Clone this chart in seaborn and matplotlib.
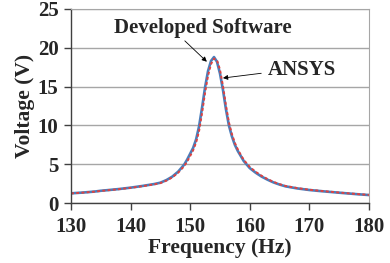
import numpy as np
import pandas as pd
import matplotlib
matplotlib.use("Agg")
import matplotlib.pyplot as plt
import seaborn as sns

# frequency (Hz) sample points
freq = [130, 132, 134, 135, 136, 138, 140, 142, 144, 145, 146, 147, 148, 149,
        149.5, 150, 150.5, 151, 151.5, 152, 152.5, 153, 153.5, 154, 154.5,
        155, 155.5, 156, 156.5, 157, 157.5, 158, 158.5, 159, 160, 161, 162,
        163, 164, 165, 166, 168, 170, 172, 175, 178, 180]

# voltage (V), developed software
v_dev = [1.25, 1.35, 1.48, 1.58, 1.65, 1.80, 1.98, 2.20, 2.45, 2.62, 2.95,
         3.40, 4.05, 4.95, 5.60, 6.35, 7.10, 8.20, 9.90, 12.3, 14.9, 17.0,
         18.3, 18.8, 18.2, 16.7, 14.6, 12.1, 10.0, 8.60, 7.50, 6.70, 6.05,
         5.40, 4.50, 3.90, 3.40, 3.00, 2.65, 2.38, 2.15, 1.88, 1.68, 1.53,
         1.33, 1.14, 1.03]

# voltage (V), ANSYS
v_ansys = [1.24, 1.34, 1.47, 1.56, 1.63, 1.78, 1.96, 2.17, 2.41, 2.57, 2.88,
           3.30, 3.92, 4.75, 5.35, 6.05, 6.80, 7.80, 9.30, 11.6, 14.2, 16.4,
           17.9, 18.6, 18.4, 17.2, 15.1, 12.6, 10.4, 8.90, 7.75, 6.90, 6.20,
           5.55, 4.65, 4.02, 3.50, 3.08, 2.72, 2.43, 2.20, 1.92, 1.71, 1.56,
           1.35, 1.16, 1.05]

x_ticks = [130, 140, 150, 160, 170, 180]
y_ticks = [0, 5, 10, 15, 20, 25]

df = pd.DataFrame({"freq": freq, "dev": v_dev, "ansys": v_ansys})

sns.set_style("ticks")
plt.rcParams["font.family"] = ["Liberation Serif", "DejaVu Serif"]
plt.rcParams["font.weight"] = "bold"

fig = plt.figure(figsize=(3.9, 2.63), dpi=100)
ax = fig.add_axes([0.182, 0.228, 0.764, 0.738])

sns.lineplot(data=df, x="freq", y="dev", ax=ax, color="#4a7ebb", lw=1.9)
sns.lineplot(data=df, x="freq", y="ansys", ax=ax, color="#e0413f", lw=1.4,
             linestyle=(0, (1.5, 1.2)))

ax.set_xlim(130, 180)
ax.set_ylim(0, 25)
ax.set_xticks(x_ticks)
ax.set_yticks(y_ticks)
ax.yaxis.grid(True, color="#a6a6a6", lw=1.0)
ax.set_axisbelow(True)

for s in ["top", "right"]:
    ax.spines[s].set_visible(True)
    ax.spines[s].set_color("#a6a6a6")
for s in ["left", "bottom"]:
    ax.spines[s].set_color("#404040")
    ax.spines[s].set_linewidth(1.0)
ax.tick_params(axis="both", direction="out", length=5, width=1.0,
               color="#404040")
ax.tick_params(axis="x", labelsize=15, pad=5)
ax.tick_params(axis="y", labelsize=15, pad=4)
for lab in ax.get_xticklabels() + ax.get_yticklabels():
    lab.set_fontweight("bold")

ax.set_xlabel("Frequency (Hz)", fontsize=15.5, fontweight="bold", labelpad=1)
ax.set_ylabel("Voltage (V)", fontsize=15.5, fontweight="bold", labelpad=2)

arrow = dict(arrowstyle="-|>", color="black", lw=0.6, mutation_scale=7,
             shrinkA=0, shrinkB=0)
ax.annotate("Developed Software", xy=(152.8, 18.2), xytext=(152.1, 22.6),
            ha="center", va="center", fontsize=15, fontweight="bold",
            arrowprops=dict(arrow, relpos=(0.38, 0.0)))
ax.annotate("ANSYS", xy=(155.5, 16.1), xytext=(168.8, 17.1),
            ha="center", va="center", fontsize=15, fontweight="bold",
            arrowprops=dict(arrow, relpos=(-0.1, 0.35)))

fig.savefig("out.png", dpi=100)
